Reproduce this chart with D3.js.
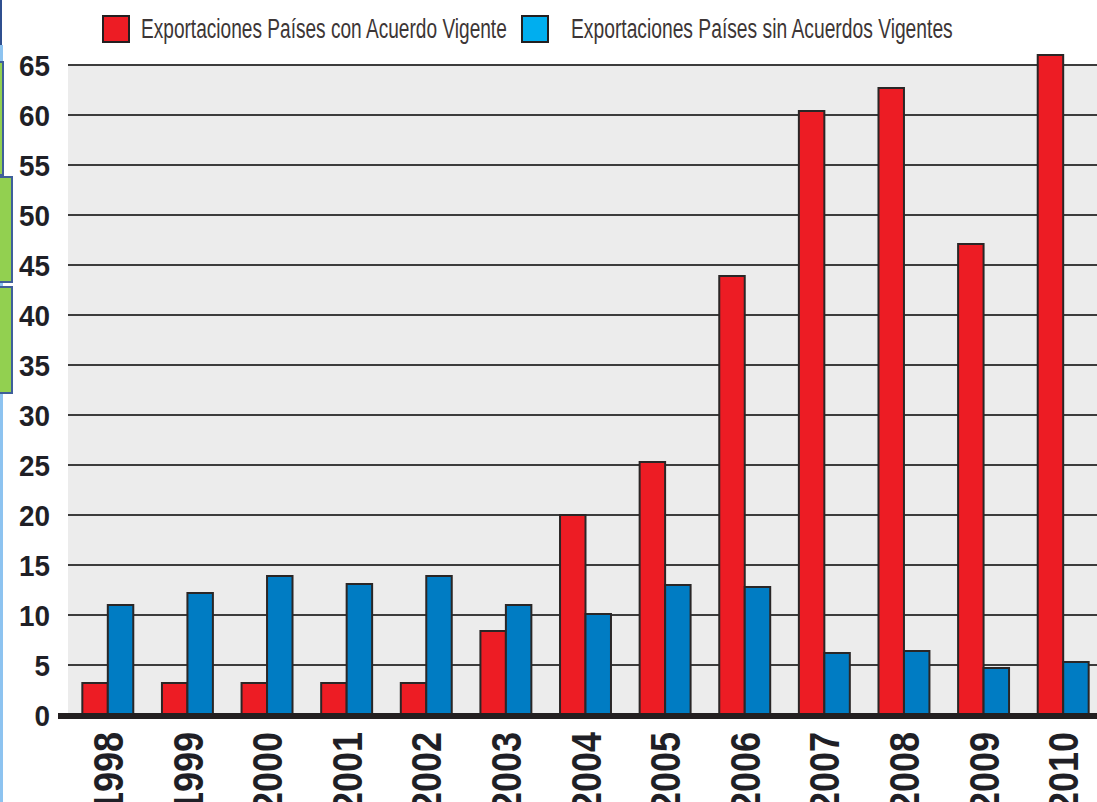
<!DOCTYPE html>
<html>
<head>
<meta charset="utf-8">
<script src="https://cdn.jsdelivr.net/npm/d3@7"></script>
<style>
  body { margin: 0; background: #fff; }
  svg { display: block; }
  .tick-label { font-family: "Liberation Sans", Arial, sans-serif; font-weight: bold; fill: #1f1f26; }
  .legend text { font-family: "Liberation Sans", Arial, sans-serif; fill: #3d3636; }
</style>
</head>
<body>
<div id="barchart"></div>
<script>

// data
var years = ["1998", "1999", "2000", "2001", "2002", "2003", "2004", "2005", "2006", "2007", "2008", "2009", "2010"];
var conAcuerdo = [3.2, 3.2, 3.2, 3.2, 3.2, 8.4, 20.0, 25.3, 43.9, 60.4, 62.7, 47.1, 66.0];
var sinAcuerdo = [11.0, 12.2, 13.9, 13.1, 13.9, 11.0, 10.1, 13.0, 12.8, 6.2, 6.4, 4.7, 5.3];
var yTicks = [0, 5, 10, 15, 20, 25, 30, 35, 40, 45, 50, 55, 60, 65];
var seriesNames = ["Exportaciones Países con Acuerdo Vigente", "Exportaciones Países sin Acuerdos Vigentes"];

var W = 1097, H = 802;
var plot = {left: 68, right: 1103, top: 65, bottom: 715};

var data = years.map(function(y, i) { return {year: y, values: [conAcuerdo[i], sinAcuerdo[i]]}; });

// scales
var x0 = d3.scaleBand().domain(years).range([plot.left, plot.right]).paddingInner(0.36).paddingOuter(0.18),
    x1 = d3.scaleBand().domain([0, 1]).range([0, x0.bandwidth()]),
    y = d3.scaleLinear().domain([0, 65]).range([plot.bottom, plot.top]);

var barColor = ["#ed1c24", "#007cc3"],
    legendColor = ["#ed1c24", "#00aeef"];

// squeeze a text horizontally so it looks condensed like the original
function squeeze(sel, width, extra) {
  sel.each(function(d) {
    var w = typeof width === "function" ? width.call(this, d) : width;
    var s = w / this.getComputedTextLength();
    d3.select(this).attr("transform", (extra || "") + " scale(" + s + ",1)");
  });
}

var svg = d3.select("#barchart")
  .append("svg")
    .attr("width", W)
    .attr("height", H);

// left edge decoration (slide frame pieces)
svg.append("rect").attr("x", 0).attr("y", 0).attr("width", 2).attr("height", 45).attr("fill", "#2f4f8f");
svg.append("rect").attr("x", 0).attr("y", 45).attr("width", 3).attr("height", H - 45).attr("fill", "#8dc3f0");
[[62, 175, 3], [177, 282, 12], [287, 393, 12]].forEach(function(b) {
  svg.append("rect")
      .attr("x", -10).attr("y", b[0])
      .attr("width", b[2] + 10).attr("height", b[1] - b[0])
      .attr("fill", "#92d050")
      .attr("stroke", "#3f5f9a")
      .attr("stroke-width", 2);
});

// plot background
svg.append("rect")
    .attr("x", plot.left)
    .attr("y", plot.top)
    .attr("width", W - plot.left)
    .attr("height", plot.bottom - plot.top)
    .attr("fill", "#ececec");

// gridlines
svg.append("g")
  .selectAll("line")
  .data(yTicks.filter(function(d) { return d > 0; }))
  .enter().append("line")
    .attr("x1", plot.left)
    .attr("x2", W)
    .attr("y1", function(d) { return y(d); })
    .attr("y2", function(d) { return y(d); })
    .attr("stroke", "#3c3c3c")
    .attr("stroke-width", 2);

// y axis labels
var yAxis = d3.axisLeft(y).tickValues(yTicks).tickSize(0).tickPadding(0);
var gy = svg.append("g")
    .attr("transform", "translate(50,0)")
    .call(yAxis);
gy.select(".domain").remove();
gy.selectAll("text")
    .attr("class", "tick-label")
    .attr("x", 0)
    .attr("dy", "0.36em")
    .style("font-size", "30px")
    .call(squeeze, function(d) { return String(d).length * 15.5; });

// bars
var groups = svg.append("g")
  .selectAll("g")
  .data(data)
  .enter().append("g")
    .attr("transform", function(d) { return "translate(" + x0(d.year) + ",0)"; });

groups.selectAll("rect")
  .data(function(d) { return d.values.map(function(v, i) { return {i: i, value: v}; }); })
  .enter().append("rect")
    .attr("x", function(d) { return x1(d.i); })
    .attr("y", function(d) { return y(d.value); })
    .attr("width", x1.bandwidth())
    .attr("height", function(d) { return y(0) - y(d.value); })
    .attr("fill", function(d) { return barColor[d.i]; })
    .attr("stroke", "#2a2626")
    .attr("stroke-width", 2);

// baseline
svg.append("line")
    .attr("x1", 58)
    .attr("x2", W)
    .attr("y1", y(0) + 1)
    .attr("y2", y(0) + 1)
    .attr("stroke", "#231f20")
    .attr("stroke-width", 6);

// x axis labels, rotated
var xAxis = d3.axisBottom(x0).tickSize(0).tickPadding(0);
var gx = svg.append("g")
    .attr("transform", "translate(0," + y(0) + ")")
    .call(xAxis);
gx.select(".domain").remove();
gx.selectAll("text")
    .attr("class", "tick-label")
    .attr("x", 0)
    .attr("y", 0)
    .attr("dy", "0.36em")
    .style("text-anchor", "end")
    .style("font-size", "42px")
    .each(function() { d3.select(this).attr("x", 0); })
    .call(squeeze, 80, "rotate(-90) translate(-17,0)");

// legend
var legendX = [103, 522], textX = [141, 571], textLen = [366, 382];
var legend = svg.append("g").attr("class", "legend");
seriesNames.forEach(function(name, i) {
  legend.append("rect")
      .attr("x", legendX[i])
      .attr("y", 16)
      .attr("width", 26)
      .attr("height", 26)
      .attr("fill", legendColor[i])
      .attr("stroke", "#231f20")
      .attr("stroke-width", 2);
  legend.append("text")
      .attr("x", 0)
      .attr("y", 0)
      .style("font-size", "28px")
      .text(name)
      .call(squeeze, textLen[i], "translate(" + textX[i] + ",38)");
});

</script>
</body>
</html>
